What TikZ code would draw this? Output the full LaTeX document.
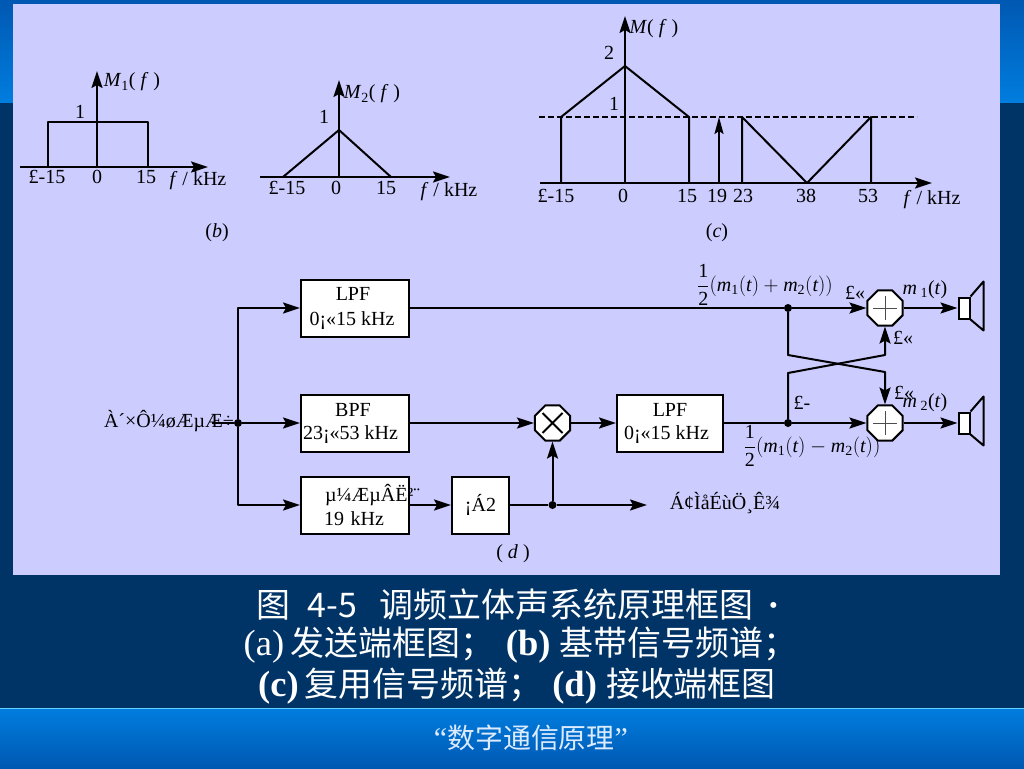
\documentclass[tikz,border=0pt]{standalone}
\usepackage{amsmath}
\usepackage{fontspec}
\setmainfont{Liberation Serif}
\newfontfamily\cjk[Scale=0.93]{Noto Sans CJK SC}
\usepackage{xcolor}
\definecolor{panelLilac}{RGB}{204,204,255}
\definecolor{slateNavy}{RGB}{0,51,102}
\definecolor{bandLight}{RGB}{0,125,222}
\definecolor{bandDark}{RGB}{0,88,178}
\definecolor{footPale}{RGB}{220,235,255}
\usetikzlibrary{shapes.geometric,arrows.meta,positioning,calc}
\newcommand{\vi}[1]{\textit{#1}}
\newcommand{\fkhz}{\vi{f} / kHz}
\tikzset{
  lbl/.style={font=\fontsize{20}{22}\selectfont, inner sep=0pt},
  mathlbl/.style={font=\fontsize{20}{22}\selectfont, inner sep=0pt},
  wire/.style={line width=2pt, line join=round},
  flow/.style={wire, -{Stealth[length=17pt,width=11pt,inset=3pt]}},
  blockbox/.style={draw, line width=2pt, fill=white, minimum width=108pt, minimum height=57pt,
    inner sep=0pt, align=center, font=\fontsize{20}{24}\selectfont},
  junction/.style={circle, fill=black, inner sep=0pt, minimum size=8pt},
  mixer/.style={regular polygon, regular polygon sides=8, draw, line width=2pt, fill=white,
    minimum size=38pt, inner sep=0pt},
  plusmark/.style={mixer, path picture={
    \draw[line width=1pt, black!70] (path picture bounding box.center) +(-12,0) -- +(12,0) +(0,-12) -- +(0,12);}},
  crossmark/.style={mixer, path picture={
    \draw[line width=1.8pt] (path picture bounding box.center) +(-10,-10) -- +(10,10) +(-10,10) -- +(10,-10);}},
  spkbox/.style={draw, line width=2pt, fill=white, minimum width=11pt, minimum height=21pt, inner sep=0pt},
  caption/.style={text=white, inner sep=0pt, font=\fontsize{36.5}{38}\selectfont},
}
\begin{document}
\begin{tikzpicture}[x=1pt,y=-1pt]
  \useasboundingbox (0,0) rectangle (1024,768);
  % slide background
  \fill[slateNavy] (0,0) rectangle (1024,768);
  \shade[top color=bandDark, bottom color=bandLight] (0,0) rectangle (1024,102);
  \shade[top color=bandLight, bottom color=bandDark] (0,709) rectangle (1024,768);
  \draw[line width=1pt, blue!30!cyan!60!white] (0,708.5) -- (1024,708.5);
  \fill[panelLilac] (13,4) rectangle (1000,575);

  % spectrum M1
  \draw[flow] (20,167) -- (208,167);
  \draw[flow] (97,167) -- (97,71);
  \draw[wire] (48,167) -- (48,122) -- (148,122) -- (148,167);
  \node[lbl] (oneA) at (80,112) {1};
  \node[lbl] (nameA) at (132,82) {\vi{M}\textsubscript{1}( \vi{f} )};
  \node[lbl] (negA) at (47,177) {£-15};
  \node[lbl] (zeroA) at (97,177) {0};
  \node[lbl] (posA) at (146,177) {15};
  \node[lbl] (axisA) at (198,181) {\fkhz};
  \node[lbl] (capB) at (217,233) {(\vi{b})};

  % spectrum M2
  \draw[flow] (260,177) -- (450,177);
  \draw[flow] (339,177) -- (339,80);
  \draw[wire] (283,177) -- (339,130) -- (391,177);
  \node[lbl] (oneB) at (324,117) {1};
  \node[lbl] (nameB) at (372,94) {\vi{M}\textsubscript{2}( \vi{f} )};
  \node[lbl] (negB) at (287,188) {£-15};
  \node[lbl] (zeroB) at (336,188) {0};
  \node[lbl] (posB) at (386,188) {15};
  \node[lbl] (axisB) at (449,192) {\fkhz};

  % multiplexed spectrum
  \draw[flow] (540,183) -- (932,183);
  \draw[flow] (625,183) -- (625,16);
  \draw[wire, dashed, dash pattern=on 6pt off 3pt] (539,117) -- (917,117);
  \draw[wire] (561,183) -- (561,117) -- (625,66) -- (689,117) -- (689,183);
  \draw[wire, -{Stealth[length=17pt,width=9pt,inset=3pt]}] (719,183) -- (719,117);
  \draw[wire] (742,183) -- (742,117) -- (807,183) -- (871,117) -- (871,183);
  \node[lbl] (twoC) at (609,53) {2};
  \node[lbl] (oneC) at (614,104) {1};
  \node[lbl] (nameC) at (654,29) {\vi{M}( \vi{f} )};
  \node[lbl] (negC) at (556,196) {£-15};
  \node[lbl] (zeroC) at (623,196) {0};
  \node[lbl] (fifteenC) at (687,196) {15};
  \node[lbl] (pilotC) at (717,196) {19};
  \node[lbl] (lowC) at (743,196) {23};
  \node[lbl] (midC) at (806,196) {38};
  \node[lbl] (highC) at (868,196) {53};
  \node[lbl] (axisC) at (932,200) {\fkhz};
  \node[lbl] (capC) at (717,233) {(\vi{c})};

  % receiver blocks
  \node[blockbox] (lpfsum) at (355,308) {\hspace*{-4pt}LPF\\[1pt]\hspace*{-6pt}0¡«15 kHz};
  \node[blockbox] (bpf) at (355,423) {\hspace*{-4pt}BPF\\[-1pt]\hspace*{-9pt}23¡«53 kHz};
  \node[blockbox, text width=108pt, align=left] (pilot) at (355,505) {\hspace*{24pt}µ¼ÆµÂË²¨\\[0pt]\hspace*{23pt}19 kHz};
  \node[blockbox, minimum width=57pt] (dbl) at (480.5,505) {¡Á2};
  \node[blockbox, minimum width=106pt] (lpfdiff) at (670,423) {LPF\\[-1pt]\hspace*{-7pt}0¡«15 kHz};
  \node[crossmark] (mult) at (552.5,423) {};
  \node[plusmark] (suma) at (885,308) {};
  \node[plusmark] (sumb) at (885,423) {};
  \node[spkbox] (spka) at (964,308) {};
  \node[spkbox] (spkb) at (964,423) {};

  \node[junction] (in) at (238,423) {};
  \node[junction] (pa) at (788,308) {};
  \node[junction] (pb) at (788,423) {};
  \node[junction] (pc) at (552.5,505) {};
  \coordinate (src) at (212,423);
  \coordinate (ind) at (647,505);
  \coordinate (ka) at (788,355);
  \coordinate (kb) at (885,372);
  \coordinate (kc) at (788,373);
  \coordinate (kd) at (885,355);

  % connectors
  \draw[wire] (src) -- (in);
  \draw[flow] (in) |- (lpfsum.west);
  \draw[flow] (in) -- (bpf.west);
  \draw[flow] (in) |- (pilot.west);
  \draw[flow] (bpf.east) -- (mult.west);
  \draw[flow] (mult.east) -- (lpfdiff.west);
  \draw[flow] (pilot.east) -- (dbl.west);
  \draw[wire] (dbl.east) -- (pc);
  \draw[flow] (pc) -- (ind);
  \draw[flow] (pc) -- (mult.south);
  \draw[wire] (lpfsum.east) -- (pa);
  \draw[flow] (pa) -- (suma.west);
  \draw[wire] (lpfdiff.east) -- (pb);
  \draw[flow] (pb) -- (sumb.west);
  \draw[flow] (pa) -- (ka) -- (kb) -- (sumb.north);
  \draw[flow] (pb) -- (kc) -- (kd) -- (suma.south);
  \draw[flow] (suma.east) -- (spka.west);
  \draw[flow] (sumb.east) -- (spkb.west);
  \draw[wire] (spka.north east) -- +(13,-15) -- +(13,34) -- (spka.south east);
  \draw[wire] (spkb.north east) -- +(13,-15) -- +(13,34) -- (spkb.south east);

  % receiver labels
  \node[lbl] (srclbl) at (169,421) {À´×Ô¼øÆµÆ÷};
  \node[lbl] (indlbl) at (725,503) {Á¢ÌåÉùÖ¸Ê¾};
  \node[lbl] (capD) at (513,554) {( \vi{d} )};
  \node[mathlbl] (sumlbl) at (765,285) {$\displaystyle\frac{\text{1}}{\text{2}}(\vi{m}_{\text{1}}(\vi{t})+\vi{m}_{\text{2}}(\vi{t}))$};
  \node[mathlbl] (difflbl) at (812,446) {$\displaystyle\frac{\text{1}}{\text{2}}(\vi{m}_{\text{1}}(\vi{t})-\vi{m}_{\text{2}}(\vi{t}))$};
  \node[lbl] (plusa) at (855,293) {£«};
  \node[lbl] (plusb) at (903,338) {£«};
  \node[lbl] (minusa) at (802,403) {£-};
  \node[lbl] (plusc) at (904,393) {£«};
  \node[lbl] (outa) at (925,290) {\vi{m}\,\textsubscript{1}(\vi{t})};
  \node[lbl] (outb) at (925,403) {\vi{m}\,\textsubscript{2}(\vi{t})};

  % caption
  \node[caption] (titlea) at (518,605) {{\cjk 图}\hspace{17pt}{\cjk 4-5}\hspace{23pt}{\cjk 调频立体声系统原理框图}\hspace{14pt}{\bfseries·}};
  \node[caption] (titleb) at (520.5,645) {(a)\,{\cjk 发送端框图；}\hspace{12pt}\textbf{(b)} {\cjk 基带信号频谱；}};
  \node[caption] (titlec) at (517,686) {\textbf{(c)}\hspace{6pt}{\cjk 复用信号频谱；}\hspace{10pt}\textbf{(d)} {\cjk 接收端框图}};
  \node[inner sep=0pt, text=footPale, font=\fontsize{30}{32}\selectfont] (foot) at (531,738) {“{\cjk 数字通信原理}”};
\end{tikzpicture}
\end{document}
